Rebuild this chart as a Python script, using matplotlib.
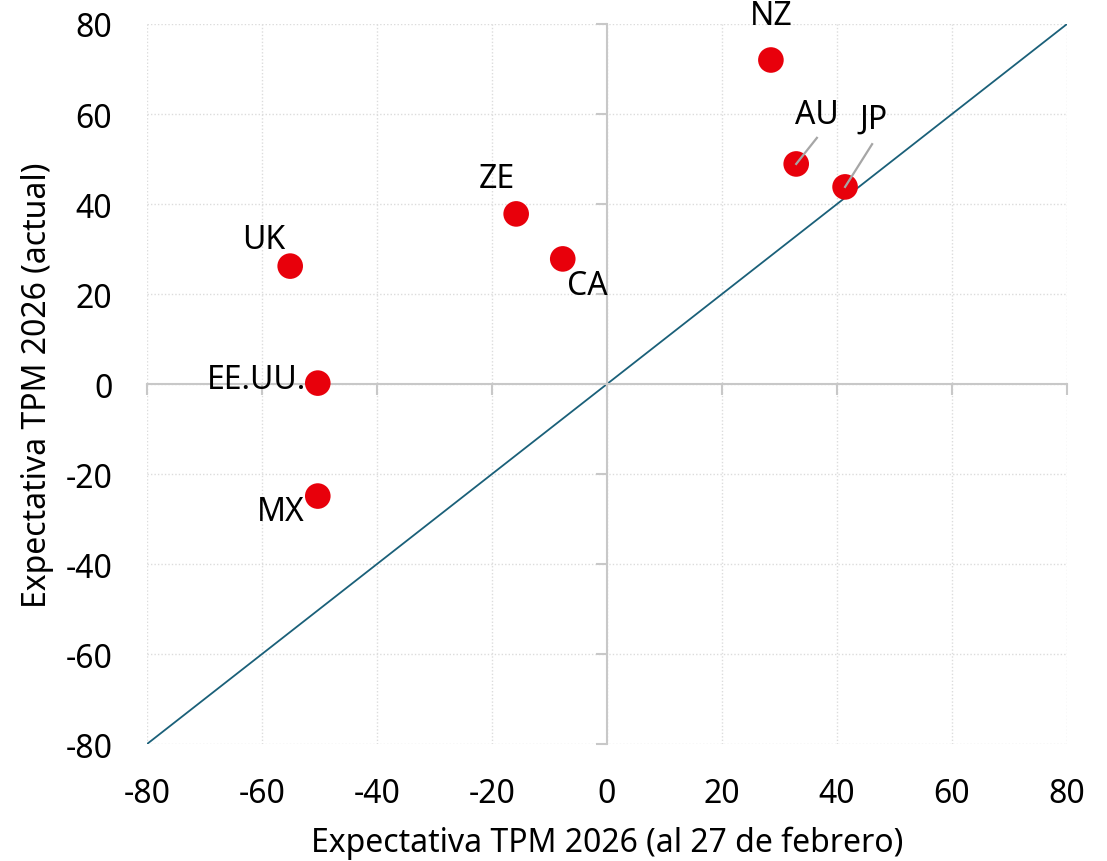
import numpy as np
import matplotlib.pyplot as plt

plt.rcParams['font.family'] = ['Noto Sans', 'DejaVu Sans']
plt.rcParams['axes.unicode_minus'] = False

# data: expected policy rate change 2026 (pb)
paises = ['NZ', 'AU', 'JP', 'ZE', 'CA', 'UK', 'EE.UU.', 'MX']
x_feb = [28.5, 32.9, 41.4, -15.8, -7.7, -55.1, -50.3, -50.3]
y_act = [72.0, 48.9, 43.8, 37.8, 27.8, 26.2, 0.2, -24.9]

# label positions (data coords)
lab_x = [28.5, 36.5, 46.3, -19.1, -3.5, -59.7, -61.0, -56.7]
lab_y = [81.8, 60.0, 58.9, 45.6, 21.8, 32.2, 0.9, -28.4]
# leader line start (only AU, JP)
lead_x = [None, 36.5, 46.1, None, None, None, None, None]
lead_y = [None, 54.7, 53.3, None, None, None, None, None]

ticks = np.arange(-80, 81, 20)
fs = 23

fig = plt.figure(figsize=(11.07, 8.62), dpi=100)
ax = fig.add_axes([0.1328, 0.1357, 0.8311, 0.8353])
ax.set_xlim(-80, 80)
ax.set_ylim(-80, 80)

ax.grid(True, color='#dcdcdc', linestyle=(0, (1, 1.5)), linewidth=1)
ax.set_axisbelow(True)

# zero axes with ticks
for s in ['top', 'right']:
    ax.spines[s].set_visible(False)
ax.spines['left'].set_position(('data', 0))
ax.spines['bottom'].set_position(('data', 0))
for s in ['left', 'bottom']:
    ax.spines[s].set_color('#c8c8c8')
    ax.spines[s].set_linewidth(1.5)
ax.set_xticks(ticks)
ax.set_yticks(ticks)
ax.tick_params(axis='both', length=8, width=1.5, color='#c8c8c8', direction='out',
               labelleft=False, labelbottom=False)

# tick labels at outer edges
secx = ax.secondary_xaxis('bottom')
secx.set_xticks(ticks)
secx.tick_params(length=0, labelsize=fs, pad=24)
secx.spines['bottom'].set_visible(False)
secy = ax.secondary_yaxis('left')
secy.set_yticks(ticks)
secy.tick_params(length=0, labelsize=fs, pad=25)
secy.spines['left'].set_visible(False)

secx.set_xlabel('Expectativa TPM 2026 (al 27 de febrero)', fontsize=fs, labelpad=11)
secy.set_ylabel('Expectativa TPM 2026 (actual)', fontsize=fs, labelpad=8)

# 45 degree line
ax.plot(ticks[[0, -1]], ticks[[0, -1]], color='#1a6079', linewidth=1.3, zorder=2)

ax.scatter(x_feb, y_act, s=340, color='#e8000b', zorder=3, edgecolors='none')

for i, p in enumerate(paises):
    ax.text(lab_x[i], lab_y[i], p, fontsize=fs, ha='center', va='center',
            clip_on=False, zorder=4)
    if lead_x[i] is not None:
        ax.plot([lead_x[i], x_feb[i]], [lead_y[i], y_act[i]], color='#a6a6a6',
                linewidth=1.6, zorder=4)

plt.savefig('out.png', dpi=100)
